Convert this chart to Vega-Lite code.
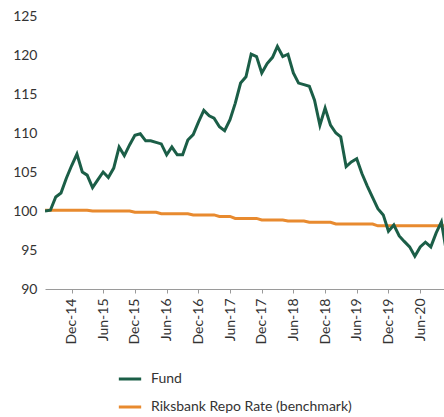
{
  "$schema": "https://vega.github.io/schema/vega-lite/v6.json",
  "autosize": {"type": "none"},
  "width": 399,
  "height": 273,
  "padding": {"left": 45, "top": 16, "right": 0, "bottom": 128},
  "background": "white",
  "config": {"view": {"stroke": null}, "font": "Lato"},
  "datasets": {
    "fund": [
      {"date": "2014-07-01", "value": 100.0}, {"date": "2014-08-01", "value": 100.1}, {"date": "2014-09-01", "value": 101.8},
      {"date": "2014-10-01", "value": 102.3}, {"date": "2014-11-01", "value": 104.2}, {"date": "2014-12-01", "value": 105.8},
      {"date": "2015-01-01", "value": 107.3}, {"date": "2015-02-01", "value": 105.0}, {"date": "2015-03-01", "value": 104.6},
      {"date": "2015-04-01", "value": 103.0}, {"date": "2015-05-01", "value": 104.0}, {"date": "2015-06-01", "value": 105.0},
      {"date": "2015-07-01", "value": 104.3}, {"date": "2015-08-01", "value": 105.5}, {"date": "2015-09-01", "value": 108.2},
      {"date": "2015-10-01", "value": 107.1}, {"date": "2015-11-01", "value": 108.5}, {"date": "2015-12-01", "value": 109.7},
      {"date": "2016-01-01", "value": 109.9}, {"date": "2016-02-01", "value": 109.0}, {"date": "2016-03-01", "value": 109.0},
      {"date": "2016-04-01", "value": 108.8}, {"date": "2016-05-01", "value": 108.6}, {"date": "2016-06-01", "value": 107.2},
      {"date": "2016-07-01", "value": 108.2}, {"date": "2016-08-01", "value": 107.2}, {"date": "2016-09-01", "value": 107.2},
      {"date": "2016-10-01", "value": 109.1}, {"date": "2016-11-01", "value": 109.8}, {"date": "2016-12-01", "value": 111.4},
      {"date": "2017-01-01", "value": 112.9}, {"date": "2017-02-01", "value": 112.2}, {"date": "2017-03-01", "value": 111.9},
      {"date": "2017-04-01", "value": 110.8}, {"date": "2017-05-01", "value": 110.3}, {"date": "2017-06-01", "value": 111.7},
      {"date": "2017-07-01", "value": 113.8}, {"date": "2017-08-01", "value": 116.4}, {"date": "2017-09-01", "value": 117.2},
      {"date": "2017-10-01", "value": 120.1}, {"date": "2017-11-01", "value": 119.8}, {"date": "2017-12-01", "value": 117.7},
      {"date": "2018-01-01", "value": 118.9}, {"date": "2018-02-01", "value": 119.7}, {"date": "2018-03-01", "value": 121.1},
      {"date": "2018-04-01", "value": 119.8}, {"date": "2018-05-01", "value": 120.1}, {"date": "2018-06-01", "value": 117.7},
      {"date": "2018-07-01", "value": 116.4}, {"date": "2018-08-01", "value": 116.2}, {"date": "2018-09-01", "value": 116.0},
      {"date": "2018-10-01", "value": 114.2}, {"date": "2018-11-01", "value": 111.0}, {"date": "2018-12-01", "value": 113.2},
      {"date": "2019-01-01", "value": 111.0}, {"date": "2019-02-01", "value": 110.0}, {"date": "2019-03-01", "value": 109.5},
      {"date": "2019-04-01", "value": 105.7}, {"date": "2019-05-01", "value": 106.3}, {"date": "2019-06-01", "value": 106.7},
      {"date": "2019-07-01", "value": 104.8}, {"date": "2019-08-01", "value": 103.2}, {"date": "2019-09-01", "value": 101.7},
      {"date": "2019-10-01", "value": 100.3}, {"date": "2019-11-01", "value": 99.5}, {"date": "2019-12-01", "value": 97.4},
      {"date": "2020-01-01", "value": 98.2}, {"date": "2020-02-01", "value": 96.8}, {"date": "2020-03-01", "value": 96.1},
      {"date": "2020-04-01", "value": 95.4}, {"date": "2020-05-01", "value": 94.2}, {"date": "2020-06-01", "value": 95.4},
      {"date": "2020-07-01", "value": 96.0}, {"date": "2020-08-01", "value": 95.4}, {"date": "2020-09-01", "value": 97.2},
      {"date": "2020-10-01", "value": 98.6}, {"date": "2020-11-01", "value": 94.5}
    ],
    "bench": [
      {"date": "2014-07-01", "value": 100.1}, {"date": "2015-03-01", "value": 100.1},
      {"date": "2015-04-01", "value": 100.0}, {"date": "2015-11-01", "value": 100.0},
      {"date": "2015-12-01", "value": 99.83}, {"date": "2016-04-01", "value": 99.83},
      {"date": "2016-05-01", "value": 99.65}, {"date": "2016-10-01", "value": 99.65},
      {"date": "2016-11-01", "value": 99.5}, {"date": "2017-03-01", "value": 99.5},
      {"date": "2017-04-01", "value": 99.3}, {"date": "2017-06-01", "value": 99.3},
      {"date": "2017-07-01", "value": 99.05}, {"date": "2017-11-01", "value": 99.05},
      {"date": "2017-12-01", "value": 98.85}, {"date": "2018-04-01", "value": 98.85},
      {"date": "2018-05-01", "value": 98.72}, {"date": "2018-08-01", "value": 98.72},
      {"date": "2018-09-01", "value": 98.55}, {"date": "2019-01-01", "value": 98.55},
      {"date": "2019-02-01", "value": 98.33}, {"date": "2019-09-01", "value": 98.33},
      {"date": "2019-10-01", "value": 98.1}, {"date": "2020-11-01", "value": 98.1}
    ]
  },
  "encoding": {
    "x": {
      "field": "date", "type": "temporal", "title": null,
      "scale": {"domain": ["2014-07-01", "2020-10-16"]},
      "axis": {
        "values": ["2014-12-01", "2015-06-01", "2015-12-01", "2016-06-01", "2016-12-01", "2017-06-01", "2017-12-01", "2018-06-01", "2018-12-01", "2019-06-01", "2019-12-01", "2020-06-01"],
        "format": "%b-%y", "labelAngle": -90, "labelFontSize": 14, "labelColor": "#333333",
        "domainColor": "#9a9a9a", "tickColor": "#9a9a9a", "tickSize": 4, "labelPadding": 5,
        "grid": false, "labelFont": "Lato"
      }
    },
    "y": {
      "field": "value", "type": "quantitative", "title": null,
      "scale": {"domain": [90, 125], "nice": false, "zero": false},
      "axis": {
        "values": [90, 95, 100, 105, 110, 115, 120, 125], "domain": false, "ticks": false, "grid": false,
        "labelFontSize": 14, "labelColor": "#333333", "labelPadding": 8, "labelFont": "Lato"
      }
    },
    "color": {
      "field": "series", "type": "nominal",
      "scale": {"domain": ["Fund", "Riksbank Repo Rate (benchmark)"], "range": ["#1b5e47", "#e88a2f"]},
      "legend": {
        "title": null, "orient": "none", "legendX": 72, "legendY": 350, "direction": "vertical",
        "symbolType": "stroke", "symbolSize": 500, "symbolStrokeWidth": 3, "labelFontSize": 14,
        "labelColor": "#333333", "rowPadding": 8, "labelOffset": 8, "labelFont": "Lato", "labelLimit": 400
      }
    }
  },
  "layer": [
    {
      "data": {"name": "bench"},
      "transform": [{"calculate": "'Riksbank Repo Rate (benchmark)'", "as": "series"}],
      "mark": {"type": "line", "strokeWidth": 3, "clip": true}
    },
    {
      "data": {"name": "fund"},
      "transform": [{"calculate": "'Fund'", "as": "series"}],
      "mark": {"type": "line", "strokeWidth": 3, "clip": true}
    }
  ]
}
